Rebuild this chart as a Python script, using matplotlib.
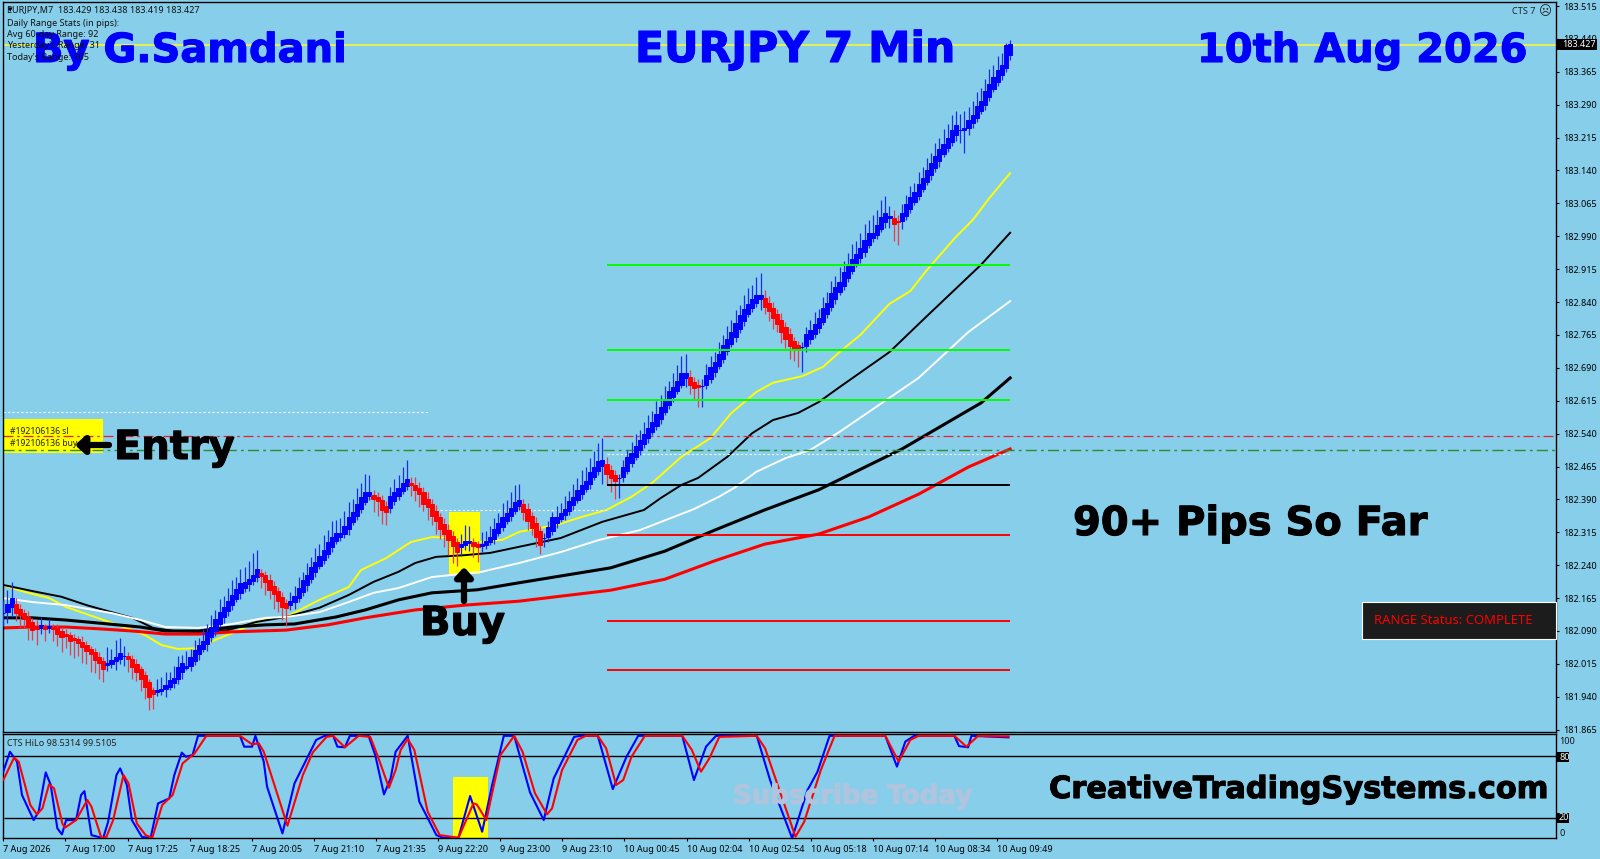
import matplotlib
matplotlib.use("Agg")
import matplotlib.pyplot as plt
import matplotlib.patheffects as pe
from matplotlib.patches import Rectangle
import numpy as np

# candle closes
closes = [
    182.131, 182.142, 182.154, 182.142, 182.133, 182.124, 182.111, 182.101, 182.097, 182.101,
    182.097, 182.099, 182.097, 182.090, 182.083, 182.081, 182.074, 182.072, 182.067, 182.060,
    182.051, 182.044, 182.033, 182.024, 182.013, 182.015, 182.020, 182.026, 182.033, 182.033,
    182.029, 182.017, 182.006, 181.992, 181.976, 181.956, 181.951, 181.953, 181.956, 181.962,
    181.971, 181.978, 181.994, 182.006, 182.008, 182.020, 182.035, 182.047, 182.058, 182.074,
    182.088, 182.104, 182.120, 182.133, 182.147, 182.161, 182.174, 182.188, 182.195, 182.202,
    182.211, 182.222, 182.218, 182.209, 182.195, 182.184, 182.170, 182.156, 182.149, 182.154,
    182.163, 182.177, 182.193, 182.206, 182.222, 182.236, 182.250, 182.263, 182.279, 182.293,
    182.304, 182.309, 182.320, 182.336, 182.350, 182.366, 182.382, 182.396, 182.402, 182.396,
    182.391, 182.377, 182.368, 182.384, 182.396, 182.407, 182.418, 182.428, 182.425, 182.418,
    182.409, 182.393, 182.382, 182.366, 182.352, 182.336, 182.323, 182.309, 182.295, 182.282,
    182.286, 182.291, 182.293, 182.288, 182.284, 182.286, 182.291, 182.298, 182.311, 182.325,
    182.339, 182.350, 182.361, 182.373, 182.382, 182.371, 182.355, 182.339, 182.320, 182.302,
    182.302, 182.316, 182.334, 182.343, 182.352, 182.361, 182.375, 182.386, 182.400, 182.412,
    182.423, 182.439, 182.453, 182.466, 182.473, 182.459, 182.448, 182.439, 182.439, 182.453,
    182.471, 182.485, 182.500, 182.514, 182.528, 182.541, 182.555, 182.571, 182.587, 182.603,
    182.621, 182.635, 182.649, 182.665, 182.672, 182.660, 182.651, 182.649, 182.649, 182.662,
    182.678, 182.692, 182.708, 182.726, 182.742, 182.758, 182.776, 182.795, 182.811, 182.824,
    182.836, 182.847, 182.852, 182.840, 182.829, 182.815, 182.801, 182.785, 182.769, 182.753,
    182.742, 182.737, 182.737, 182.753, 182.765, 182.779, 182.792, 182.811, 182.826, 182.845,
    182.861, 182.874, 182.893, 182.909, 182.925, 182.938, 182.952, 182.968, 182.984, 182.991,
    183.004, 183.020, 183.032, 183.034, 183.025, 183.024, 183.034, 183.050, 183.066, 183.080,
    183.096, 183.111, 183.127, 183.143, 183.159, 183.175, 183.189, 183.203, 183.219, 183.232,
    183.232, 183.235, 183.246, 183.257, 183.273, 183.287, 183.305, 183.323, 183.339, 183.355,
    183.369, 183.400, 183.415,
]
# wick lengths in points (0.001)
upper_wick = [
    30, 42, 48, 12, 10, 8, 12, 9, 14, 20, 6, 18, 8,
    10, 8, 12, 7, 9, 6, 11, 8, 5, 7, 9, 6,
    38, 30, 44, 40, 22, 8, 6, 9, 5, 7, 4, 6,
    28, 30, 34, 26, 32, 38, 30, 36, 30, 34, 28, 36, 32, 38, 34, 42, 36, 40, 46, 38, 44, 40, 48, 56, 52,
    10, 8, 12, 9, 7, 10, 8,
    24, 30, 36, 32, 40, 36, 44, 38, 46, 42, 48, 40, 38, 44, 48, 42, 50, 46, 52, 44,
    9, 12, 8, 10, 34, 40, 38, 46, 52,
    14, 16, 12, 10, 14, 9, 11, 8, 12, 10, 9, 7,
    26, 40, 36, 10, 8,
    30, 26, 32, 36, 34, 42, 38, 46, 50, 44,
    8, 10, 7, 12, 9, 12,
    24, 28, 32, 30, 36, 34, 40, 38, 44, 42, 46, 48, 52, 56,
    14, 10, 8, 10,
    28, 32, 36, 40, 34, 38, 42, 36, 44, 40, 46, 38, 44, 48, 52, 50,
    12, 10, 14, 16,
    36, 40, 34, 42, 38, 44, 40, 46, 38, 44, 48, 42, 50, 54,
    16, 14, 12, 10, 14, 9, 12, 8, 10, 12,
    30, 34, 38, 32, 40, 36, 44, 38, 46, 40, 44, 48, 42, 46, 50, 44, 48, 46, 52, 50,
    26, 16, 14,
    30, 34, 38, 32, 40, 36, 42, 38, 44, 40, 46, 42, 48, 44,
    36, 40, 38, 42, 46, 40, 44, 48, 42, 46, 38, 30, 23,
]
lower_wick = [
    30, 22, 20, 30, 36, 28, 42, 32, 38, 14, 30, 12, 30,
    34, 40, 30, 38, 44, 34, 42, 36, 48, 38, 44, 40,
    14, 10, 18, 12, 22, 32, 36, 30, 38, 42, 46, 40,
    10, 8, 16, 6, 12, 8, 14, 6, 10, 8, 12, 6, 14, 8, 10, 6, 12, 8, 10, 6, 12, 8, 14, 6, 10,
    30, 38, 32, 44, 36, 42, 48,
    10, 14, 6, 8, 12, 6, 10, 4, 8, 6, 10, 4, 8, 6, 10, 4, 8, 6, 4, 8,
    34, 38, 42, 36, 10, 6, 8, 4, 6,
    28, 32, 36, 30, 38, 34, 40, 36, 42, 46, 50, 44,
    20, 12, 18, 30, 36,
    14, 8, 6, 10, 4, 8, 6, 10, 4, 8,
    28, 34, 30, 38, 36, 20,
    8, 6, 10, 4, 8, 6, 10, 4, 8, 6, 10, 4, 8, 40,
    36, 42, 48, 46,
    10, 6, 8, 4, 8, 6, 10, 4, 6, 8, 4, 6, 8, 4, 6, 18,
    30, 34, 48, 48,
    8, 6, 10, 4, 8, 6, 4, 8, 6, 10, 4, 6, 8, 24,
    28, 32, 36, 30, 38, 34, 42, 36, 44, 57,
    12, 8, 6, 10, 4, 8, 6, 10, 4, 6, 8, 4, 6, 8, 10, 4, 6, 8, 4, 10,
    22, 45, 55,
    18, 8, 6, 4, 8, 6, 4, 8, 6, 10, 4, 6, 8, 12,
    30, 52, 14, 8, 6, 4, 8, 6, 4, 6, 8, 4, 8,
]

# moving averages (bar, price)
yellow_bars = [0, 2, 6, 11, 15, 22, 29, 34, 38, 42, 47, 51, 55, 62, 68, 76, 83, 86, 92, 98, 103, 110, 115, 120, 124, 133,
               139, 145, 151, 156, 163, 170, 175, 181, 185, 192, 197, 201, 206, 213, 218, 222, 229, 233, 237, 242]
yellow_ma = [182.195, 182.188, 182.177, 182.165, 182.145, 182.122, 182.099, 182.081, 182.058, 182.049, 182.051, 182.070,
             182.085, 182.115, 182.122, 182.161, 182.190, 182.229, 182.256, 182.293, 182.304, 182.302, 182.293, 182.298,
             182.316, 182.332, 182.350, 182.366, 182.396, 182.428, 182.487, 182.530, 182.587, 182.635, 182.656, 182.671,
             182.692, 182.726, 182.765, 182.836, 182.865, 182.913, 182.989, 183.027, 183.077, 183.134]
thin_black_bars = [0, 7, 14, 20, 26, 31, 36, 41, 47, 54, 61, 68, 76, 83, 89, 95, 99, 104, 111, 117, 124, 134, 144, 154,
                   158, 163, 167, 174, 180, 185, 191, 196, 201, 213, 222, 235, 242]
thin_black_ma = [182.195, 182.181, 182.168, 182.149, 182.133, 182.120, 182.097, 182.090, 182.088, 182.092, 182.111,
                 182.122, 182.143, 182.172, 182.202, 182.225, 182.245, 182.259, 182.263, 182.268, 182.282, 182.302,
                 182.339, 182.366, 182.393, 182.423, 182.439, 182.487, 182.541, 182.571, 182.587, 182.612, 182.646,
                 182.726, 182.808, 182.925, 182.998]
white_bars = [0, 7, 15, 26, 33, 39, 47, 55, 63, 68, 76, 83, 89, 95, 103, 115, 124, 134, 143, 153, 166, 172, 176, 181,
              188, 194, 201, 220, 232, 242]
white_ma = [182.165, 182.156, 182.149, 182.131, 182.115, 182.099, 182.097, 182.106, 182.120, 182.122, 182.133, 182.156,
            182.177, 182.188, 182.213, 182.225, 182.245, 182.270, 182.297, 182.320, 182.368, 182.396, 182.418, 182.453,
            182.484, 182.503, 182.544, 182.667, 182.772, 182.842]
thick_black_bars = [0, 7, 15, 23, 33, 39, 47, 55, 63, 70, 80, 87, 95, 103, 114, 124, 146, 159, 171, 183, 196, 216, 235, 242]
thick_black_ma = [182.120, 182.120, 182.115, 182.108, 182.099, 182.090, 182.090, 182.099, 182.104, 182.106, 182.122,
                  182.138, 182.161, 182.177, 182.184, 182.200, 182.234, 182.272, 182.320, 182.366, 182.412, 182.505,
                  182.610, 182.667]
red_bars = [0, 7, 15, 23, 31, 39, 47, 55, 68, 78, 87, 99, 111, 124, 146, 159, 171, 183, 196, 208, 220, 232, 242]
red_ma = [182.097, 182.099, 182.099, 182.095, 182.090, 182.083, 182.083, 182.088, 182.092, 182.104, 182.120, 182.138,
          182.149, 182.158, 182.183, 182.208, 182.250, 182.288, 182.311, 182.350, 182.402, 182.464, 182.505]

# horizontal levels
green_levels = [182.925, 182.731, 182.617]
black_levels = [182.423]
red_levels = [182.309, 182.113, 182.001]
sl_price = 182.535
buy_price = 182.503
current_price = 183.427

price_ticks = [183.515, 183.440, 183.365, 183.290, 183.215, 183.140, 183.065, 182.990, 182.915, 182.840, 182.765,
               182.690, 182.615, 182.540, 182.465, 182.390, 182.315, 182.240, 182.165, 182.090, 182.015, 181.940, 181.865]
time_labels = ["7 Aug 2026", "7 Aug 17:00", "7 Aug 17:25", "7 Aug 18:25", "7 Aug 20:05", "7 Aug 21:10", "7 Aug 21:35",
               "9 Aug 22:20", "9 Aug 23:00", "9 Aug 23:10", "10 Aug 00:45", "10 Aug 02:04", "10 Aug 02:54",
               "10 Aug 05:18", "10 Aug 07:14", "10 Aug 08:34", "10 Aug 09:49"]

# stochastic lines of the lower panel (bar, value)
hilo_blue_bars = [0, 1.6, 3.3, 4.5, 7.3, 8.5, 10.2, 11.4, 13, 14.1, 15.1, 17.5, 18.7, 19.5, 21.2, 24, 25.2, 27.2, 28.1,
                  29.7, 30.9, 33.3, 35.4, 37.2, 39.9, 41.1, 42.9, 43.9, 45.5, 46.8, 56.9, 57.9, 59.8, 60.6, 62.6, 63.4,
                  67.1, 70, 72.8, 75.2, 77.2, 79.3, 80.3, 82.1, 83.3, 87.8, 89.4, 91.5, 93.1, 94.3, 97.2, 100, 104.1,
                  105.7, 109.4, 112.2, 115.1, 117.5, 120.3, 122.8, 126.6, 129.9, 132.3, 137.2, 138.8, 142.9, 146.5,
                  149.8, 152.6, 163.2, 166, 168.9, 171.3, 181.1, 184.3, 189.6, 193.3, 195.7, 198.6, 212, 214.8, 216.8,
                  218.9, 228.6, 229.7, 231.9, 232.7, 241.6]
hilo_blue = [65, 84.5, 74.8, 42.2, 17.7, 25.9, 64.3, 52, 9.6, 3.7, 17.7, 17.7, 42.2, 46, 3, 0, 16, 61.7, 68.2,
             52, 17.7, 1.4, 0, 34, 38.9, 61.7, 83.6, 79.6, 81.3, 100, 100, 89.4, 89.4, 100, 74.8, 50.3,
             4.7, 53.6, 76.4, 96, 100, 100, 89.4, 88.8, 100, 100, 81.3, 42.8, 58.5, 84.5, 100, 35.6, 3,
             0.4, 0.4, 41.2, 6.3, 52, 100, 100, 44.8, 17.7, 58.5, 99, 100, 100, 48,
             79.6, 100, 100, 56.8, 89.4, 100, 100, 56.8, 0, 47, 65, 100, 100, 69.9, 94.3,
             100, 100, 90, 88.8, 100, 98.5]
hilo_red_bars = [0, 2.6, 3.7, 6.5, 8.1, 9.4, 11, 12.2, 14.2, 14.8, 17.5, 20.2, 21.2, 23.6, 24.8, 26.4, 28.9, 30.1, 32.1,
                 34.2, 35.8, 38.2, 40.7, 43.1, 46, 48.8, 56.9, 59.8, 61.4, 62.6, 68.3, 72, 74.4, 77.7, 79.3, 82.1, 85.4,
                 88.2, 89.9, 92.7, 94.3, 95.5, 97.2, 98.8, 102, 104.9, 109.4, 113, 113.8, 116.1, 119.5, 122.8, 124.8,
                 126.6, 127.8, 130.7, 131.9, 134.3, 138, 140, 142.9, 144.9, 147.3, 149, 151, 154.2, 163.2, 165.5, 167.7,
                 169.7, 172.1, 181.1, 183.1, 190.4, 192.5, 196.5, 199.8, 212, 215.2, 218, 220, 228.6, 231.5, 234.3, 241.6]
hilo_red = [56.8, 78.7, 74.8, 32.4, 23.3, 29.1, 52.6, 48.7, 14.4, 10.2, 17.7, 37.3, 30.7, 0, 1.4, 17.7, 61.7, 53.6, 14.4,
            3, 0.4, 32.4, 42.2, 73.1, 82.9, 100, 100, 91.7, 92.7, 84.5, 12.2, 61.7, 83.9, 99, 100, 88.8, 100,
            99, 81.3, 49.3, 66.6, 86.2, 97, 86.2, 25.9, 3, 0.4, 34, 33, 17.7, 81.3, 100, 84.5,
            60, 43.8, 23.3, 29.1, 66.6, 96, 100, 100, 87.8, 52, 56.8, 79.6, 100, 100, 86.2, 65,
            78, 99, 100, 87.8, 1.4, 16, 66.6, 100, 100, 74.8, 96, 100, 100, 89.4, 100, 99.5]
hilo_levels = [80, 20]

W, H = 1600, 859
SKY = "#87ceeb"
SMALL = ["Noto Sans", "DejaVu Sans"]
BIG = "DejaVu Sans"

plt.rcParams["font.family"] = SMALL
fig = plt.figure(figsize=(W / 100, H / 100), dpi=100, facecolor=SKY)


def panel(left, top, right, bottom):
    return fig.add_axes([left / W, 1 - bottom / H, (right - left) / W, (bottom - top) / H], facecolor=SKY)


ax = panel(2.7, 2.3, 1556, 732.3)
ax2 = panel(2.7, 734.3, 1556, 838.2)
for a in (ax, ax2):
    a.set_xlim(-0.14, 373.2)
    for s in a.spines.values():
        s.set_linewidth(1.0)
ax.set_ylim(181.859, 183.5235)
ax2.set_ylim(0, 101.5)

bars = np.arange(len(closes))
c = np.array(closes)
prev = np.r_[c[0], c[:-1]]
step = c - prev
rising = c >= prev
# traced closes run through the middle of the blocks, so the body sits around them
body_top = c + 0.85 * np.abs(step)
body_low = c - 0.85 * np.abs(step)
highs = np.maximum(c, prev) + np.array(upper_wick) / 1000
lows = np.minimum(c, prev) - np.array(lower_wick) / 1000
body_cols = ["#0000ff" if r else "#ff0000" for r in rising]
wick_cols = ["#1a2cf0" if r else "#e83a48" for r in rising]

# highlight behind the buy candles and the order labels
ax.add_patch(Rectangle((107.1, 182.220), 7.5, 0.141, color="#ffff00", lw=0, zorder=1))
ax.add_patch(Rectangle((-0.14, 182.496), 24.1, 0.077, color="#ffff00", lw=0, zorder=1))

ax.plot(yellow_bars, yellow_ma, color="#ffff00", lw=1.4, zorder=2)
ax.plot(thin_black_bars, thin_black_ma, color="black", lw=1.4, zorder=2)
ax.plot(white_bars, white_ma, color="white", lw=1.4, zorder=2)
ax.plot(thick_black_bars, thick_black_ma, color="black", lw=2.2, zorder=2)
ax.plot(red_bars, red_ma, color="#ff0000", lw=2.2, zorder=2)

ax.vlines(bars, lows, highs, colors=wick_cols, lw=0.9, zorder=3)
ax.bar(bars, body_top - body_low, bottom=body_low, width=1.0, color=body_cols, edgecolor=body_cols, linewidth=0.7, zorder=3)

ax.hlines(green_levels, 145, 242, color="#00ff00", lw=1.4, zorder=4)
ax.hlines(black_levels, 145, 242, color="black", lw=1.4, zorder=4)
ax.hlines(red_levels, 145, 242, color="#ff0000", lw=1.4, zorder=4)
ax.axhline(sl_price, color="#e8202c", lw=0.9, ls=(0, (8, 3, 2, 3)), zorder=2)
ax.axhline(buy_price, color="#2e8b2e", lw=1.0, ls=(0, (8, 3, 2, 3)), zorder=2)
ax.hlines(182.589, -0.14, 102, color="white", lw=0.8, ls=(0, (2, 2)), zorder=2)
ax.hlines(182.366, 105, 145, color="white", lw=0.8, ls=(0, (2, 2)), zorder=2)
ax.hlines(182.494, 145, 242, color="white", lw=0.8, ls=(0, (2, 2)), zorder=2)
ax.axhline(current_price, color="#e8f050", lw=1.4, zorder=1.5)

ax.yaxis.tick_right()
ax.set_yticks(price_ticks)
ax.set_yticklabels([f"{p:.3f}" for p in price_ticks], fontsize=6.5)
ax.tick_params(axis="y", length=2.5, width=0.8, pad=2.5)
ax.set_xticks([])

ax2.add_patch(Rectangle((108.1, 0), 8.5, 59.5, color="#ffff00", lw=0, zorder=1))
ax2.hlines(hilo_levels, 0.2, 373.2, color="black", lw=1.0, zorder=2)
ax2.plot(hilo_blue_bars, hilo_blue, color="#0000ff", lw=1.5, zorder=3)
ax2.plot(hilo_red_bars, hilo_red, color="#ff0000", lw=1.5, zorder=4)
ax2.set_yticks([])
ax2.set_xticks(np.arange(len(time_labels)) * 14.93)
ax2.set_xticklabels(time_labels, fontsize=6.5, ha="left")
ax2.tick_params(axis="x", length=2.5, width=0.8, pad=2.5)

# overlay in pixel coordinates for all the drawn-on text
ov = fig.add_axes([0, 0, 1, 1], zorder=10)
ov.set_xlim(0, W)
ov.set_ylim(H, 0)
ov.axis("off")


def big(x, y, s, size, col):
    t = ov.text(x, y, s, family=BIG, weight="bold", fontsize=size, color=col)
    t.set_path_effects([pe.withStroke(linewidth=0.8, foreground=col)])


big(33, 62, "By G.Samdani", 28.8, "#0000ff")
big(635, 62, "EURJPY 7 Min", 30.6, "#0000ff")
big(1197, 62, "10th Aug 2026", 28.8, "#0000ff")
big(114, 459, "Entry", 28.8, "black")
big(420, 635, "Buy", 28.8, "black")
big(1073, 535, "90+ Pips So Far", 28.8, "black")
big(1049, 798, "CreativeTradingSystems.com", 21.9, "black")
big(733, 803.5, "Subscribe Today", 18.8, "#b0c4de")

ov.annotate("", xy=(75, 445), xytext=(109, 445),
            arrowprops=dict(arrowstyle="-|>,head_length=0.55,head_width=0.5", color="black", lw=4.5, shrinkA=0, shrinkB=0))
ov.annotate("", xy=(464, 567), xytext=(464, 601),
            arrowprops=dict(arrowstyle="-|>,head_length=0.55,head_width=0.5", color="black", lw=4.5, shrinkA=0, shrinkB=0))

ov.text(8, 10, "\u25be", fontsize=6.5, va="center", color="black")
info_lines = ["EURJPY,M7  183.429 183.438 183.419 183.427", "Daily Range Stats (in pips):", "Avg 60-day Range: 92",
              "Yesterday's Range: 31", "Today's Range: 105"]
for y, line in zip([10, 23, 34.7, 46, 57], info_lines):
    ov.text(7, y, line, fontsize=6.5, va="center", color="#111111")
ov.text(1512, 11, "CTS 7", fontsize=6.6, va="center", color="#222222")
ov.text(1545, 12, "\u2639", family="DejaVu Sans", fontsize=9, va="center", ha="center", color="#222222")
ov.text(9.5, 431, "#192106136 sl", fontsize=6.2, va="center", color="#222222")
ov.text(9.5, 444, "#192106136 buy", fontsize=6.2, va="center", color="#222222")
ov.text(7, 744, "CTS HiLo 98.5314 99.5105", fontsize=6.5, va="center", color="#222222")

# price box on the axis
ov.add_patch(Rectangle((1557, 39), 40, 11, color="black", lw=0))
ov.text(1562, 44.6, "183.427", fontsize=6.5, va="center", color="white")

# range status panel
ov.add_patch(Rectangle((1362, 602), 194, 37, facecolor="#1c1c1c", edgecolor="white", lw=0.8))
ov.text(1374, 621, "RANGE Status: COMPLETE", fontsize=9.4, va="center", color="#ff0000")

# lower panel scale
ov.add_patch(Rectangle((1557, 752), 12, 10, color="black", lw=0))
ov.add_patch(Rectangle((1557, 813), 12, 10, color="black", lw=0))
ov.text(1559, 757, "80", fontsize=6.5, va="center", color="white")
ov.text(1559, 818, "20", fontsize=6.5, va="center", color="white")
ov.text(1559, 741, "100", fontsize=6.5, va="center", color="#111111")
ov.text(1559, 833, "0", fontsize=6.5, va="center", color="#111111")

fig.savefig("out.png", dpi=100, facecolor=SKY)
